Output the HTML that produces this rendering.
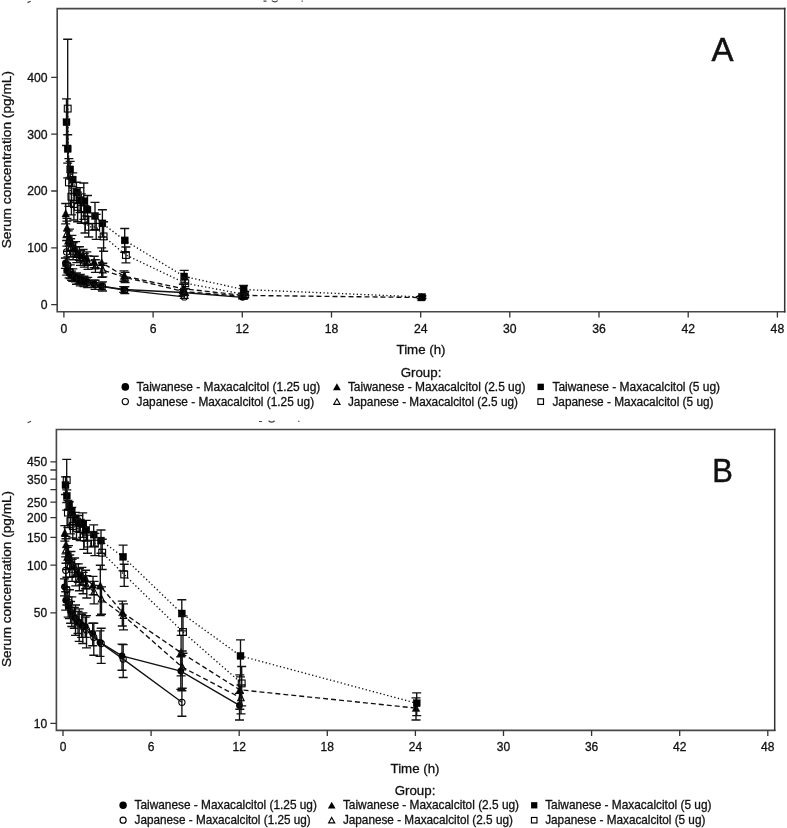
<!DOCTYPE html>
<html lang="en"><head><meta charset="utf-8"><title>Serum concentration-time profiles</title>
<style>html,body{margin:0;padding:0;background:#fff}svg{display:block}</style></head>
<body>
<svg width="787" height="828" viewBox="0 0 787 828" font-family="'Liberation Sans', sans-serif" fill="#111"><style>text{stroke:#111;stroke-width:0.3px}text.big{stroke-width:0.5px}</style>
<rect width="787" height="828" fill="#fff"/>
<path d="M57.2,311.75V8.6H784.7M57.2,311.75H784.7" fill="none" stroke="#484848" stroke-width="1.65" stroke-linecap="square"/><path d="M784.7,8.6V311.75" fill="none" stroke="#333" stroke-width="1.5" stroke-linecap="square"/>
<text x="63.9" y="332.9" font-size="12.2" text-anchor="middle">0</text>
<text x="153.1" y="332.9" font-size="12.2" text-anchor="middle">6</text>
<text x="242.3" y="332.9" font-size="12.2" text-anchor="middle">12</text>
<text x="331.5" y="332.9" font-size="12.2" text-anchor="middle">18</text>
<text x="420.7" y="332.9" font-size="12.2" text-anchor="middle">24</text>
<text x="509.8" y="332.9" font-size="12.2" text-anchor="middle">30</text>
<text x="599.0" y="332.9" font-size="12.2" text-anchor="middle">36</text>
<text x="688.2" y="332.9" font-size="12.2" text-anchor="middle">42</text>
<text x="777.4" y="332.9" font-size="12.2" text-anchor="middle">48</text>
<text x="47.6" y="309.1" font-size="12.2" text-anchor="end">0</text>
<text x="47.6" y="252.3" font-size="12.2" text-anchor="end">100</text>
<text x="47.6" y="195.4" font-size="12.2" text-anchor="end">200</text>
<text x="47.6" y="138.6" font-size="12.2" text-anchor="end">300</text>
<text x="47.6" y="81.7" font-size="12.2" text-anchor="end">400</text>
<path d="M63.9,311.75V317.5M153.1,311.75V317.5M242.3,311.75V317.5M331.5,311.75V317.5M420.7,311.75V317.5M509.8,311.75V317.5M599.0,311.75V317.5M688.2,311.75V317.5M777.4,311.75V317.5M57.2,304.6H51.2M57.2,247.8H51.2M57.2,191.0H51.2M57.2,134.1H51.2M57.2,77.3H51.2" stroke="#333" stroke-width="1.3" fill="none"/>
<text transform="translate(10.9,248.3) rotate(-90)" font-size="13.1" textLength="177.3" lengthAdjust="spacingAndGlyphs">Serum concentration (pg/mL)</text>
<text x="421" y="354" font-size="13.3" text-anchor="middle">Time (h)</text>
<text x="421" y="376.5" font-size="13.3" text-anchor="middle">Group:</text>
<text x="722.5" y="61" font-size="33" text-anchor="middle" class="big">A</text>
<circle cx="125.3" cy="386.90000000000003" r="3.80" fill="#000" stroke="#000" stroke-width="0"/>
<text x="136.6" y="391.0" font-size="12" textLength="183.7" lengthAdjust="spacingAndGlyphs">Taiwanese - Maxacalcitol (1.25 ug)</text>
<circle cx="125.3" cy="401.6" r="3.10" fill="#fff" stroke="#000" stroke-width="1.15"/>
<text x="136.6" y="405.7" font-size="12" textLength="177.5" lengthAdjust="spacingAndGlyphs">Japanese - Maxacalcitol (1.25 ug)</text>
<path d="M336.9,383.30L340.80,390.24H333.00Z" fill="#000" stroke="#000" stroke-width="0"/>
<text x="347.9" y="391.0" font-size="12" textLength="177.5" lengthAdjust="spacingAndGlyphs">Taiwanese - Maxacalcitol (2.5 ug)</text>
<path d="M336.9,398.80L340.00,404.32H333.80Z" fill="#fff" stroke="#000" stroke-width="1.15"/>
<text x="347.9" y="405.7" font-size="12" textLength="170" lengthAdjust="spacingAndGlyphs">Japanese - Maxacalcitol (2.5 ug)</text>
<rect x="537.50" y="383.70" width="6.40" height="6.40" fill="#000" stroke="#000" stroke-width="0"/>
<text x="552.4" y="391.0" font-size="12" textLength="167.7" lengthAdjust="spacingAndGlyphs">Taiwanese - Maxacalcitol (5 ug)</text>
<rect x="537.90" y="398.80" width="5.60" height="5.60" fill="#fff" stroke="#000" stroke-width="1.15"/>
<text x="552.4" y="405.7" font-size="12" textLength="161.1" lengthAdjust="spacingAndGlyphs">Japanese - Maxacalcitol (5 ug)</text>
<path d="M65.4,263.2 L66.7,270.5 L69.1,273.4 L71.6,275.7 L75.3,277.9 L79.1,279.6 L82.8,280.8 L86.5,281.3 L93.9,283.6 L101.4,286.2 L123.7,289.5 L183.1,292.5 L242.6,297.3" fill="none" stroke="#111" stroke-width="1.35"/>
<path d="M65.4,258.0V268.3M60.9,258.0h9M60.9,268.3h9M66.7,266.0V275.1M62.2,266.0h9M62.2,275.1h9M69.1,268.8V277.9M64.6,268.8h9M64.6,277.9h9M71.6,271.1V280.2M67.1,271.1h9M67.1,280.2h9M75.3,274.0V281.9M70.8,274.0h9M70.8,281.9h9M79.1,275.7V283.6M74.6,275.7h9M74.6,283.6h9M82.8,276.8V284.8M78.3,276.8h9M78.3,284.8h9M86.5,277.9V284.8M82.0,277.9h9M82.0,284.8h9M93.9,280.2V287.0M89.4,280.2h9M89.4,287.0h9M101.4,282.8V289.6M96.9,282.8h9M96.9,289.6h9M123.7,286.6V292.3M119.2,286.6h9M119.2,292.3h9M183.1,289.6V295.3M178.6,289.6h9M178.6,295.3h9M242.6,295.8V298.7M238.1,295.8h9M238.1,298.7h9" fill="none" stroke="#111" stroke-width="1.35"/>
<circle cx="65.4" cy="263.2" r="3.4" fill="#000" stroke="#000" stroke-width="0"/>
<circle cx="66.7" cy="270.5" r="3.4" fill="#000" stroke="#000" stroke-width="0"/>
<circle cx="69.1" cy="273.4" r="3.4" fill="#000" stroke="#000" stroke-width="0"/>
<circle cx="71.6" cy="275.7" r="3.4" fill="#000" stroke="#000" stroke-width="0"/>
<circle cx="75.3" cy="277.9" r="3.4" fill="#000" stroke="#000" stroke-width="0"/>
<circle cx="79.1" cy="279.6" r="3.4" fill="#000" stroke="#000" stroke-width="0"/>
<circle cx="82.8" cy="280.8" r="3.4" fill="#000" stroke="#000" stroke-width="0"/>
<circle cx="86.5" cy="281.3" r="3.4" fill="#000" stroke="#000" stroke-width="0"/>
<circle cx="93.9" cy="283.6" r="3.4" fill="#000" stroke="#000" stroke-width="0"/>
<circle cx="101.4" cy="286.2" r="3.4" fill="#000" stroke="#000" stroke-width="0"/>
<circle cx="123.7" cy="289.5" r="3.4" fill="#000" stroke="#000" stroke-width="0"/>
<circle cx="183.1" cy="292.5" r="3.4" fill="#000" stroke="#000" stroke-width="0"/>
<circle cx="242.6" cy="297.3" r="3.4" fill="#000" stroke="#000" stroke-width="0"/>
<path d="M66.6,251.9 L67.9,264.9 L70.3,271.7 L72.8,275.1 L76.5,278.5 L80.3,280.2 L84.0,281.3 L87.7,282.5 L95.1,284.8 L102.5,286.5 L124.8,290.2 L184.3,296.9" fill="none" stroke="#111" stroke-width="1.35"/>
<path d="M66.6,240.5V263.3M62.1,240.5h9M62.1,263.3h9M67.9,256.9V272.8M63.4,256.9h9M63.4,272.8h9M70.3,264.9V278.5M65.8,264.9h9M65.8,278.5h9M72.8,268.8V281.3M68.3,268.8h9M68.3,281.3h9M76.5,272.8V284.2M72.0,272.8h9M72.0,284.2h9M80.3,274.5V285.9M75.8,274.5h9M75.8,285.9h9M84.0,276.2V286.5M79.5,276.2h9M79.5,286.5h9M87.7,277.4V287.6M83.2,277.4h9M83.2,287.6h9M95.1,280.2V289.3M90.6,280.2h9M90.6,289.3h9M102.5,281.9V291.0M98.0,281.9h9M98.0,291.0h9M124.8,286.7V293.6M120.3,286.7h9M120.3,293.6h9M184.3,295.5V298.3M179.8,295.5h9M179.8,298.3h9" fill="none" stroke="#111" stroke-width="1.35"/>
<circle cx="66.6" cy="251.9" r="3.1" fill="none" stroke="#000" stroke-width="1.1"/>
<circle cx="67.9" cy="264.9" r="3.1" fill="none" stroke="#000" stroke-width="1.1"/>
<circle cx="70.3" cy="271.7" r="3.1" fill="none" stroke="#000" stroke-width="1.1"/>
<circle cx="72.8" cy="275.1" r="3.1" fill="none" stroke="#000" stroke-width="1.1"/>
<circle cx="76.5" cy="278.5" r="3.1" fill="none" stroke="#000" stroke-width="1.1"/>
<circle cx="80.3" cy="280.2" r="3.1" fill="none" stroke="#000" stroke-width="1.1"/>
<circle cx="84.0" cy="281.3" r="3.1" fill="none" stroke="#000" stroke-width="1.1"/>
<circle cx="87.7" cy="282.5" r="3.1" fill="none" stroke="#000" stroke-width="1.1"/>
<circle cx="95.1" cy="284.8" r="3.1" fill="none" stroke="#000" stroke-width="1.1"/>
<circle cx="102.5" cy="286.5" r="3.1" fill="none" stroke="#000" stroke-width="1.1"/>
<circle cx="124.8" cy="290.2" r="3.1" fill="none" stroke="#000" stroke-width="1.1"/>
<circle cx="184.3" cy="296.9" r="3.1" fill="none" stroke="#000" stroke-width="1.1"/>
<path d="M65.7,213.7 L67.0,227.9 L69.4,237.6 L71.9,243.3 L75.6,248.9 L79.4,253.5 L83.1,255.8 L86.8,258.0 L94.2,262.0 L101.7,262.6 L124.0,276.1 L183.4,288.7 L242.9,295.4 L421.3,297.5" fill="none" stroke="#111" stroke-width="1.35" stroke-dasharray="5,3"/>
<path d="M65.7,203.5V223.9M61.2,203.5h9M61.2,223.9h9M67.0,218.3V237.6M62.5,218.3h9M62.5,237.6h9M69.4,229.1V246.1M64.9,229.1h9M64.9,246.1h9M71.9,235.3V251.2M67.4,235.3h9M67.4,251.2h9M75.6,241.6V256.3M71.1,241.6h9M71.1,256.3h9M79.4,246.7V260.3M74.9,246.7h9M74.9,260.3h9M83.1,249.5V262.0M78.6,249.5h9M78.6,262.0h9M86.8,251.8V264.3M82.3,251.8h9M82.3,264.3h9M94.2,256.3V267.7M89.7,256.3h9M89.7,267.7h9M101.7,247.8V277.4M97.2,247.8h9M97.2,277.4h9M124.0,270.9V281.2M119.5,270.9h9M119.5,281.2h9M183.4,284.2V293.3M178.9,284.2h9M178.9,293.3h9M242.9,293.1V297.7M238.4,293.1h9M238.4,297.7h9M421.3,296.4V298.7M416.8,296.4h9M416.8,298.7h9" fill="none" stroke="#111" stroke-width="1.35"/>
<path d="M65.7,209.5L69.5,217.1H61.9Z" fill="#000" stroke="#000" stroke-width="0.4"/>
<path d="M67.0,223.7L70.8,231.3H63.2Z" fill="#000" stroke="#000" stroke-width="0.4"/>
<path d="M69.4,233.4L73.2,240.9H65.7Z" fill="#000" stroke="#000" stroke-width="0.4"/>
<path d="M71.9,239.1L75.7,246.6H68.1Z" fill="#000" stroke="#000" stroke-width="0.4"/>
<path d="M75.6,244.7L79.4,252.3H71.9Z" fill="#000" stroke="#000" stroke-width="0.4"/>
<path d="M79.4,249.3L83.1,256.9H75.6Z" fill="#000" stroke="#000" stroke-width="0.4"/>
<path d="M83.1,251.6L86.9,259.1H79.3Z" fill="#000" stroke="#000" stroke-width="0.4"/>
<path d="M86.8,253.8L90.6,261.4H83.0Z" fill="#000" stroke="#000" stroke-width="0.4"/>
<path d="M94.2,257.8L98.0,265.4H90.4Z" fill="#000" stroke="#000" stroke-width="0.4"/>
<path d="M101.7,258.4L105.4,265.9H97.9Z" fill="#000" stroke="#000" stroke-width="0.4"/>
<path d="M124.0,271.9L127.7,279.4H120.2Z" fill="#000" stroke="#000" stroke-width="0.4"/>
<path d="M183.4,284.5L187.2,292.1H179.6Z" fill="#000" stroke="#000" stroke-width="0.4"/>
<path d="M242.9,291.2L246.7,298.7H239.1Z" fill="#000" stroke="#000" stroke-width="0.4"/>
<path d="M421.3,293.3L425.0,300.9H417.5Z" fill="#000" stroke="#000" stroke-width="0.4"/>
<path d="M66.9,233.6 L68.2,241.0 L70.6,247.8 L73.1,251.2 L76.8,254.6 L80.5,258.0 L84.3,260.3 L88.0,262.6 L95.4,266.0 L102.8,270.0 L125.1,277.4 L184.6,291.7 L244.1,296.4" fill="none" stroke="#111" stroke-width="1.35" stroke-dasharray="5,3"/>
<path d="M66.9,221.1V246.1M62.4,221.1h9M62.4,246.1h9M68.2,230.8V251.2M63.7,230.8h9M63.7,251.2h9M70.6,238.7V256.9M66.1,238.7h9M66.1,256.9h9M73.1,242.7V259.7M68.6,242.7h9M68.6,259.7h9M76.8,246.7V262.6M72.3,246.7h9M72.3,262.6h9M80.5,250.7V265.4M76.0,250.7h9M76.0,265.4h9M84.3,253.5V267.1M79.8,253.5h9M79.8,267.1h9M88.0,255.8V269.4M83.5,255.8h9M83.5,269.4h9M95.4,259.7V272.3M90.9,259.7h9M90.9,272.3h9M102.8,263.2V276.8M98.3,263.2h9M98.3,276.8h9M125.1,272.3V282.5M120.6,272.3h9M120.6,282.5h9M184.6,288.3V295.2M180.1,288.3h9M180.1,295.2h9M244.1,294.7V298.1M239.6,294.7h9M239.6,298.1h9" fill="none" stroke="#111" stroke-width="1.35"/>
<path d="M66.9,230.0L70.2,236.5H63.7Z" fill="none" stroke="#000" stroke-width="1.1"/>
<path d="M68.2,237.4L71.4,243.9H64.9Z" fill="none" stroke="#000" stroke-width="1.1"/>
<path d="M70.6,244.2L73.9,250.7H67.4Z" fill="none" stroke="#000" stroke-width="1.1"/>
<path d="M73.1,247.6L76.4,254.1H69.9Z" fill="none" stroke="#000" stroke-width="1.1"/>
<path d="M76.8,251.0L80.1,257.5H73.6Z" fill="none" stroke="#000" stroke-width="1.1"/>
<path d="M80.5,254.4L83.8,260.9H77.3Z" fill="none" stroke="#000" stroke-width="1.1"/>
<path d="M84.3,256.7L87.5,263.2H81.0Z" fill="none" stroke="#000" stroke-width="1.1"/>
<path d="M88.0,259.0L91.2,265.5H84.7Z" fill="none" stroke="#000" stroke-width="1.1"/>
<path d="M95.4,262.4L98.7,268.9H92.2Z" fill="none" stroke="#000" stroke-width="1.1"/>
<path d="M102.8,266.4L106.1,272.9H99.6Z" fill="none" stroke="#000" stroke-width="1.1"/>
<path d="M125.1,273.8L128.4,280.2H121.9Z" fill="none" stroke="#000" stroke-width="1.1"/>
<path d="M184.6,288.1L187.8,294.6H181.4Z" fill="none" stroke="#000" stroke-width="1.1"/>
<path d="M244.1,292.8L247.3,299.3H240.8Z" fill="none" stroke="#000" stroke-width="1.1"/>
<path d="M66.5,122.2 L67.7,148.9 L70.2,169.4 L72.7,179.6 L76.4,192.4 L80.1,200.1 L83.8,201.2 L87.5,209.7 L95.0,216.0 L102.4,223.4 L124.7,240.4 L184.2,276.5 L243.6,289.5 L422.0,297.0" fill="none" stroke="#111" stroke-width="1.35" stroke-dasharray="1.3,2.4"/>
<path d="M66.5,98.9V145.5M62.0,98.9h9M62.0,145.5h9M67.7,134.7V163.1M63.2,134.7h9M63.2,163.1h9M70.2,161.4V177.3M65.7,161.4h9M65.7,177.3h9M72.7,172.8V186.4M68.2,172.8h9M68.2,186.4h9M76.4,182.2V202.6M71.9,182.2h9M71.9,202.6h9M80.1,187.6V212.6M75.6,187.6h9M75.6,212.6h9M83.8,183.0V219.4M79.3,183.0h9M79.3,219.4h9M87.5,195.5V223.9M83.0,195.5h9M83.0,223.9h9M95.0,202.3V229.6M90.5,202.3h9M90.5,229.6h9M102.4,209.7V237.0M97.9,209.7h9M97.9,237.0h9M124.7,228.5V252.4M120.2,228.5h9M120.2,252.4h9M184.2,270.3V282.8M179.7,270.3h9M179.7,282.8h9M243.6,285.5V293.5M239.1,285.5h9M239.1,293.5h9M422.0,295.8V298.3M417.5,295.8h9M417.5,298.3h9" fill="none" stroke="#111" stroke-width="1.35"/>
<rect x="63.0" y="118.7" width="7.0" height="7.0" fill="#000" stroke="#000" stroke-width="0.4"/>
<rect x="64.2" y="145.4" width="7.0" height="7.0" fill="#000" stroke="#000" stroke-width="0.4"/>
<rect x="66.7" y="165.9" width="7.0" height="7.0" fill="#000" stroke="#000" stroke-width="0.4"/>
<rect x="69.2" y="176.1" width="7.0" height="7.0" fill="#000" stroke="#000" stroke-width="0.4"/>
<rect x="72.9" y="188.9" width="7.0" height="7.0" fill="#000" stroke="#000" stroke-width="0.4"/>
<rect x="76.6" y="196.6" width="7.0" height="7.0" fill="#000" stroke="#000" stroke-width="0.4"/>
<rect x="80.3" y="197.7" width="7.0" height="7.0" fill="#000" stroke="#000" stroke-width="0.4"/>
<rect x="84.0" y="206.2" width="7.0" height="7.0" fill="#000" stroke="#000" stroke-width="0.4"/>
<rect x="91.5" y="212.5" width="7.0" height="7.0" fill="#000" stroke="#000" stroke-width="0.4"/>
<rect x="98.9" y="219.9" width="7.0" height="7.0" fill="#000" stroke="#000" stroke-width="0.4"/>
<rect x="121.2" y="236.9" width="7.0" height="7.0" fill="#000" stroke="#000" stroke-width="0.4"/>
<rect x="180.7" y="273.0" width="7.0" height="7.0" fill="#000" stroke="#000" stroke-width="0.4"/>
<rect x="240.1" y="286.0" width="7.0" height="7.0" fill="#000" stroke="#000" stroke-width="0.4"/>
<rect x="418.5" y="293.5" width="7.0" height="7.0" fill="#000" stroke="#000" stroke-width="0.4"/>
<path d="M67.7,108.6 L68.9,182.4 L71.4,196.7 L73.9,204.0 L77.6,206.9 L81.3,208.6 L85.0,219.4 L88.7,226.8 L96.2,226.8 L103.6,236.4 L125.9,255.0 L185.3,283.2 L244.8,294.5" fill="none" stroke="#111" stroke-width="1.35" stroke-dasharray="1.3,2.4"/>
<path d="M67.7,39.2V177.9M63.2,39.2h9M63.2,177.9h9M68.9,158.6V206.3M64.4,158.6h9M64.4,206.3h9M71.4,178.5V214.8M66.9,178.5h9M66.9,214.8h9M73.9,188.1V220.0M69.4,188.1h9M69.4,220.0h9M77.6,192.1V221.7M73.1,192.1h9M73.1,221.7h9M81.3,193.8V223.4M76.8,193.8h9M76.8,223.4h9M85.0,205.7V233.0M80.5,205.7h9M80.5,233.0h9M88.7,216.5V237.0M84.2,216.5h9M84.2,237.0h9M96.2,214.3V239.3M91.7,214.3h9M91.7,239.3h9M103.6,221.7V251.2M99.1,221.7h9M99.1,251.2h9M125.9,247.0V262.9M121.4,247.0h9M121.4,262.9h9M185.3,277.5V288.8M180.8,277.5h9M180.8,288.8h9M244.8,291.6V297.3M240.3,291.6h9M240.3,297.3h9" fill="none" stroke="#111" stroke-width="1.35"/>
<rect x="64.3" y="105.2" width="6.8" height="6.8" fill="none" stroke="#000" stroke-width="1.1"/>
<rect x="65.5" y="179.0" width="6.8" height="6.8" fill="none" stroke="#000" stroke-width="1.1"/>
<rect x="68.0" y="193.3" width="6.8" height="6.8" fill="none" stroke="#000" stroke-width="1.1"/>
<rect x="70.5" y="200.6" width="6.8" height="6.8" fill="none" stroke="#000" stroke-width="1.1"/>
<rect x="74.2" y="203.5" width="6.8" height="6.8" fill="none" stroke="#000" stroke-width="1.1"/>
<rect x="77.9" y="205.2" width="6.8" height="6.8" fill="none" stroke="#000" stroke-width="1.1"/>
<rect x="81.6" y="216.0" width="6.8" height="6.8" fill="none" stroke="#000" stroke-width="1.1"/>
<rect x="85.3" y="223.4" width="6.8" height="6.8" fill="none" stroke="#000" stroke-width="1.1"/>
<rect x="92.8" y="223.4" width="6.8" height="6.8" fill="none" stroke="#000" stroke-width="1.1"/>
<rect x="100.2" y="233.0" width="6.8" height="6.8" fill="none" stroke="#000" stroke-width="1.1"/>
<rect x="122.5" y="251.6" width="6.8" height="6.8" fill="none" stroke="#000" stroke-width="1.1"/>
<rect x="181.9" y="279.8" width="6.8" height="6.8" fill="none" stroke="#000" stroke-width="1.1"/>
<rect x="241.4" y="291.1" width="6.8" height="6.8" fill="none" stroke="#000" stroke-width="1.1"/>
<path d="M27.5,2.6l3.2,-1.4M263.5,1.2h3M271.8,0.6q3,2.6 6,0M301.6,1.1h1.2" stroke="#444" stroke-width="1.2" fill="none"/>
<path d="M27.6,422.8l3.4,-1.6M259,421.5h3M268.6,420.8q3,2.8 6,0M298.2,421.4h1.2" stroke="#444" stroke-width="1.2" fill="none"/>
<path d="M56.4,730.3V429.5H774.7M56.4,730.3H774.7" fill="none" stroke="#484848" stroke-width="1.65" stroke-linecap="square"/><path d="M774.7,429.5V730.3" fill="none" stroke="#333" stroke-width="1.5" stroke-linecap="square"/>
<text x="63.0" y="751.3" font-size="12" text-anchor="middle">0</text>
<text x="151.1" y="751.3" font-size="12" text-anchor="middle">6</text>
<text x="239.2" y="751.3" font-size="12" text-anchor="middle">12</text>
<text x="327.3" y="751.3" font-size="12" text-anchor="middle">18</text>
<text x="415.4" y="751.3" font-size="12" text-anchor="middle">24</text>
<text x="503.5" y="751.3" font-size="12" text-anchor="middle">30</text>
<text x="591.6" y="751.3" font-size="12" text-anchor="middle">36</text>
<text x="679.7" y="751.3" font-size="12" text-anchor="middle">42</text>
<text x="767.8" y="751.3" font-size="12" text-anchor="middle">48</text>
<text x="47.1" y="727.8" font-size="12" text-anchor="end">10</text>
<text x="47.1" y="617.2" font-size="12" text-anchor="end">50</text>
<text x="47.1" y="569.6" font-size="12" text-anchor="end">100</text>
<text x="47.1" y="541.7" font-size="12" text-anchor="end">150</text>
<text x="47.1" y="521.9" font-size="12" text-anchor="end">200</text>
<text x="47.1" y="506.6" font-size="12" text-anchor="end">250</text>
<text x="47.1" y="483.5" font-size="12" text-anchor="end">350</text>
<text x="47.1" y="466.2" font-size="12" text-anchor="end">450</text>
<path d="M63.0,730.3V735.9M151.1,730.3V735.9M239.2,730.3V735.9M327.3,730.3V735.9M415.4,730.3V735.9M503.5,730.3V735.9M591.6,730.3V735.9M679.7,730.3V735.9M767.8,730.3V735.9M56.4,723.4H50.4M56.4,612.8H50.4M56.4,565.2H50.4M56.4,537.3H50.4M56.4,517.6H50.4M56.4,502.2H50.4M56.4,489.7H50.4M56.4,479.1H50.4M56.4,470.0H50.4M56.4,461.9H50.4" stroke="#333" stroke-width="1.3" fill="none"/>
<text transform="translate(10.9,667.1) rotate(-90)" font-size="13.1" textLength="176.2" lengthAdjust="spacingAndGlyphs">Serum concentration (pg/mL)</text>
<text x="415" y="773.2" font-size="13.3" text-anchor="middle">Time (h)</text>
<text x="415" y="794.5" font-size="13.3" text-anchor="middle">Group:</text>
<text x="722.5" y="482" font-size="34" textLength="20.6" lengthAdjust="spacingAndGlyphs" text-anchor="middle" class="big">B</text>
<circle cx="123.1" cy="805.3" r="3.72" fill="#000" stroke="#000" stroke-width="0"/>
<text x="134.6" y="809.4" font-size="11.9" textLength="182.3" lengthAdjust="spacingAndGlyphs">Taiwanese - Maxacalcitol (1.25 ug)</text>
<circle cx="123.1" cy="820.1999999999999" r="3.04" fill="#fff" stroke="#000" stroke-width="1.15"/>
<text x="134.6" y="824.3" font-size="11.9" textLength="176.1" lengthAdjust="spacingAndGlyphs">Japanese - Maxacalcitol (1.25 ug)</text>
<path d="M331.7,801.78L335.52,808.58H327.88Z" fill="#000" stroke="#000" stroke-width="0"/>
<text x="342.9" y="809.4" font-size="11.9" textLength="176.2" lengthAdjust="spacingAndGlyphs">Taiwanese - Maxacalcitol (2.5 ug)</text>
<path d="M331.7,817.46L334.74,822.87H328.66Z" fill="#fff" stroke="#000" stroke-width="1.15"/>
<text x="342.9" y="824.3" font-size="11.9" textLength="170" lengthAdjust="spacingAndGlyphs">Japanese - Maxacalcitol (2.5 ug)</text>
<rect x="531.06" y="802.16" width="6.27" height="6.27" fill="#000" stroke="#000" stroke-width="0"/>
<text x="545.2" y="809.4" font-size="11.9" textLength="166.3" lengthAdjust="spacingAndGlyphs">Taiwanese - Maxacalcitol (5 ug)</text>
<rect x="531.46" y="817.46" width="5.49" height="5.49" fill="#fff" stroke="#000" stroke-width="1.15"/>
<text x="545.2" y="824.3" font-size="11.9" textLength="160.2" lengthAdjust="spacingAndGlyphs">Japanese - Maxacalcitol (5 ug)</text>
<path d="M64.5,586.8 L65.7,600.3 L68.2,606.3 L70.6,611.5 L74.3,617.1 L78.0,621.6 L81.6,624.8 L85.3,626.5 L92.7,633.5 L100.0,642.4 L122.0,655.9 L180.8,671.1 L239.5,705.4" fill="none" stroke="#111" stroke-width="1.35"/>
<path d="M64.5,578.8V595.9M60.0,578.8h9M60.0,595.9h9M65.7,591.7V610.1M61.2,591.7h9M61.2,610.1h9M68.2,596.9V617.1M63.7,596.9h9M63.7,617.1h9M70.6,601.5V623.2M66.1,601.5h9M66.1,623.2h9M74.3,607.5V628.2M69.8,607.5h9M69.8,628.2h9M78.0,611.5V633.5M73.5,611.5h9M73.5,633.5h9M81.6,614.2V637.3M77.1,614.2h9M77.1,637.3h9M85.3,617.1V637.3M80.8,617.1h9M80.8,637.3h9M92.7,623.2V645.7M88.2,623.2h9M88.2,645.7h9M100.0,630.8V656.4M95.5,630.8h9M95.5,656.4h9M122.0,644.1V670.2M117.5,644.1h9M117.5,670.2h9M180.8,656.7V689.4M176.3,656.7h9M176.3,689.4h9M239.5,693.3V720.0M235.0,693.3h9M235.0,720.0h9" fill="none" stroke="#111" stroke-width="1.35"/>
<circle cx="64.5" cy="586.8" r="3.4" fill="#000" stroke="#000" stroke-width="0"/>
<circle cx="65.7" cy="600.3" r="3.4" fill="#000" stroke="#000" stroke-width="0"/>
<circle cx="68.2" cy="606.3" r="3.4" fill="#000" stroke="#000" stroke-width="0"/>
<circle cx="70.6" cy="611.5" r="3.4" fill="#000" stroke="#000" stroke-width="0"/>
<circle cx="74.3" cy="617.1" r="3.4" fill="#000" stroke="#000" stroke-width="0"/>
<circle cx="78.0" cy="621.6" r="3.4" fill="#000" stroke="#000" stroke-width="0"/>
<circle cx="81.6" cy="624.8" r="3.4" fill="#000" stroke="#000" stroke-width="0"/>
<circle cx="85.3" cy="626.5" r="3.4" fill="#000" stroke="#000" stroke-width="0"/>
<circle cx="92.7" cy="633.5" r="3.4" fill="#000" stroke="#000" stroke-width="0"/>
<circle cx="100.0" cy="642.4" r="3.4" fill="#000" stroke="#000" stroke-width="0"/>
<circle cx="122.0" cy="655.9" r="3.4" fill="#000" stroke="#000" stroke-width="0"/>
<circle cx="180.8" cy="671.1" r="3.4" fill="#000" stroke="#000" stroke-width="0"/>
<circle cx="239.5" cy="705.4" r="3.4" fill="#000" stroke="#000" stroke-width="0"/>
<path d="M65.7,570.3 L66.9,589.7 L69.4,602.6 L71.8,610.1 L75.5,618.6 L79.2,623.2 L82.8,626.5 L86.5,629.9 L93.8,637.3 L101.2,643.5 L123.2,659.1 L181.9,702.3" fill="none" stroke="#111" stroke-width="1.35"/>
<path d="M65.7,556.9V587.0M61.2,556.9h9M61.2,587.0h9M66.9,577.2V605.0M62.4,577.2h9M62.4,605.0h9M69.4,589.7V618.6M64.9,589.7h9M64.9,618.6h9M71.8,596.9V626.5M67.3,596.9h9M67.3,626.5h9M75.5,605.0V635.4M71.0,605.0h9M71.0,635.4h9M79.2,608.8V641.4M74.7,608.8h9M74.7,641.4h9M82.8,612.8V643.5M78.3,612.8h9M78.3,643.5h9M86.5,615.6V647.9M82.0,615.6h9M82.0,647.9h9M93.8,623.2V655.2M89.3,623.2h9M89.3,655.2h9M101.2,628.2V663.3M96.7,628.2h9M96.7,663.3h9M123.2,644.6V677.5M118.7,644.6h9M118.7,677.5h9M181.9,690.7V716.2M177.4,690.7h9M177.4,716.2h9" fill="none" stroke="#111" stroke-width="1.35"/>
<circle cx="65.7" cy="570.3" r="3.1" fill="none" stroke="#000" stroke-width="1.1"/>
<circle cx="66.9" cy="589.7" r="3.1" fill="none" stroke="#000" stroke-width="1.1"/>
<circle cx="69.4" cy="602.6" r="3.1" fill="none" stroke="#000" stroke-width="1.1"/>
<circle cx="71.8" cy="610.1" r="3.1" fill="none" stroke="#000" stroke-width="1.1"/>
<circle cx="75.5" cy="618.6" r="3.1" fill="none" stroke="#000" stroke-width="1.1"/>
<circle cx="79.2" cy="623.2" r="3.1" fill="none" stroke="#000" stroke-width="1.1"/>
<circle cx="82.8" cy="626.5" r="3.1" fill="none" stroke="#000" stroke-width="1.1"/>
<circle cx="86.5" cy="629.9" r="3.1" fill="none" stroke="#000" stroke-width="1.1"/>
<circle cx="93.8" cy="637.3" r="3.1" fill="none" stroke="#000" stroke-width="1.1"/>
<circle cx="101.2" cy="643.5" r="3.1" fill="none" stroke="#000" stroke-width="1.1"/>
<circle cx="123.2" cy="659.1" r="3.1" fill="none" stroke="#000" stroke-width="1.1"/>
<circle cx="181.9" cy="702.3" r="3.1" fill="none" stroke="#000" stroke-width="1.1"/>
<path d="M64.8,532.9 L66.0,544.6 L68.5,553.8 L70.9,559.9 L74.6,566.6 L78.3,572.4 L81.9,575.6 L85.6,578.8 L93.0,585.0 L100.3,585.9 L122.3,612.4 L181.1,652.7 L239.8,689.8 L416.0,708.1" fill="none" stroke="#111" stroke-width="1.35" stroke-dasharray="5,3"/>
<path d="M64.8,525.6V541.1M60.3,525.6h9M60.3,541.1h9M66.0,536.4V553.8M61.5,536.4h9M61.5,553.8h9M68.5,545.6V563.2M64.0,545.6h9M64.0,563.2h9M70.9,551.5V569.5M66.4,551.5h9M66.4,569.5h9M74.6,558.0V576.4M70.1,558.0h9M70.1,576.4h9M78.3,563.8V582.3M73.8,563.8h9M73.8,582.3h9M81.9,567.3V585.0M77.4,567.3h9M77.4,585.0h9M85.6,570.2V588.7M81.1,570.2h9M81.1,588.7h9M93.0,576.4V594.8M88.5,576.4h9M88.5,594.8h9M100.3,565.2V615.6M95.8,565.2h9M95.8,615.6h9M122.3,601.1V626.0M117.8,601.1h9M117.8,626.0h9M181.1,635.4V675.8M176.6,635.4h9M176.6,675.8h9M239.8,674.8V709.2M235.3,674.8h9M235.3,709.2h9M416.0,697.9V720.0M411.5,697.9h9M411.5,720.0h9" fill="none" stroke="#111" stroke-width="1.35"/>
<path d="M64.8,528.7L68.6,536.3H61.0Z" fill="#000" stroke="#000" stroke-width="0.4"/>
<path d="M66.0,540.4L69.8,547.9H62.3Z" fill="#000" stroke="#000" stroke-width="0.4"/>
<path d="M68.5,549.6L72.3,557.2H64.7Z" fill="#000" stroke="#000" stroke-width="0.4"/>
<path d="M70.9,555.7L74.7,563.3H67.1Z" fill="#000" stroke="#000" stroke-width="0.4"/>
<path d="M74.6,562.4L78.4,569.9H70.8Z" fill="#000" stroke="#000" stroke-width="0.4"/>
<path d="M78.3,568.2L82.1,575.8H74.5Z" fill="#000" stroke="#000" stroke-width="0.4"/>
<path d="M81.9,571.4L85.7,578.9H78.2Z" fill="#000" stroke="#000" stroke-width="0.4"/>
<path d="M85.6,574.6L89.4,582.2H81.8Z" fill="#000" stroke="#000" stroke-width="0.4"/>
<path d="M93.0,580.8L96.7,588.3H89.2Z" fill="#000" stroke="#000" stroke-width="0.4"/>
<path d="M100.3,581.7L104.1,589.2H96.5Z" fill="#000" stroke="#000" stroke-width="0.4"/>
<path d="M122.3,608.2L126.1,615.8H118.5Z" fill="#000" stroke="#000" stroke-width="0.4"/>
<path d="M181.1,648.5L184.8,656.0H177.3Z" fill="#000" stroke="#000" stroke-width="0.4"/>
<path d="M239.8,685.6L243.6,693.2H236.0Z" fill="#000" stroke="#000" stroke-width="0.4"/>
<path d="M416.0,703.9L419.8,711.4H412.2Z" fill="#000" stroke="#000" stroke-width="0.4"/>
<path d="M66.0,549.9 L67.2,557.4 L69.7,565.2 L72.1,569.5 L75.8,574.0 L79.4,578.8 L83.1,582.3 L86.8,585.9 L94.1,591.7 L101.5,599.2 L123.5,615.6 L182.2,667.1 L241.0,697.9" fill="none" stroke="#111" stroke-width="1.35" stroke-dasharray="5,3"/>
<path d="M66.0,538.7V563.2M61.5,538.7h9M61.5,563.2h9M67.2,547.2V569.5M62.7,547.2h9M62.7,569.5h9M69.7,555.0V577.2M65.2,555.0h9M65.2,577.2h9M72.1,559.3V581.4M67.6,559.3h9M67.6,581.4h9M75.8,563.8V585.9M71.3,563.8h9M71.3,585.9h9M79.4,568.7V590.7M74.9,568.7h9M74.9,590.7h9M83.1,572.4V593.7M78.6,572.4h9M78.6,593.7h9M86.8,575.6V598.0M82.3,575.6h9M82.3,598.0h9M94.1,581.4V603.8M89.6,581.4h9M89.6,603.8h9M101.5,586.8V614.2M97.0,586.8h9M97.0,614.2h9M123.5,603.8V629.9M119.0,603.8h9M119.0,629.9h9M182.2,651.0V688.2M177.7,651.0h9M177.7,688.2h9M241.0,685.0V713.8M236.5,685.0h9M236.5,713.8h9" fill="none" stroke="#111" stroke-width="1.35"/>
<path d="M66.0,546.3L69.2,552.7H62.7Z" fill="none" stroke="#000" stroke-width="1.1"/>
<path d="M67.2,553.8L70.5,560.3H64.0Z" fill="none" stroke="#000" stroke-width="1.1"/>
<path d="M69.7,561.6L72.9,568.1H66.4Z" fill="none" stroke="#000" stroke-width="1.1"/>
<path d="M72.1,565.9L75.3,572.3H68.9Z" fill="none" stroke="#000" stroke-width="1.1"/>
<path d="M75.8,570.4L79.0,576.9H72.5Z" fill="none" stroke="#000" stroke-width="1.1"/>
<path d="M79.4,575.2L82.7,581.7H76.2Z" fill="none" stroke="#000" stroke-width="1.1"/>
<path d="M83.1,578.7L86.4,585.2H79.9Z" fill="none" stroke="#000" stroke-width="1.1"/>
<path d="M86.8,582.3L90.0,588.8H83.5Z" fill="none" stroke="#000" stroke-width="1.1"/>
<path d="M94.1,588.1L97.4,594.6H90.9Z" fill="none" stroke="#000" stroke-width="1.1"/>
<path d="M101.5,595.6L104.7,602.0H98.2Z" fill="none" stroke="#000" stroke-width="1.1"/>
<path d="M123.5,612.0L126.7,618.5H120.3Z" fill="none" stroke="#000" stroke-width="1.1"/>
<path d="M182.2,663.5L185.5,670.0H179.0Z" fill="none" stroke="#000" stroke-width="1.1"/>
<path d="M241.0,694.3L244.2,700.8H237.7Z" fill="none" stroke="#000" stroke-width="1.1"/>
<path d="M65.5,485.1 L66.8,495.9 L69.2,505.6 L71.7,511.0 L75.3,518.4 L79.0,523.3 L82.7,524.1 L86.3,530.0 L93.7,534.6 L101.0,540.6 L123.1,556.8 L181.8,613.5 L240.5,655.9 L416.7,703.3" fill="none" stroke="#111" stroke-width="1.35" stroke-dasharray="1.3,2.4"/>
<path d="M65.5,476.8V494.5M61.0,476.8h9M61.0,494.5h9M66.8,489.9V502.5M62.3,489.9h9M62.3,502.5h9M69.2,501.7V509.8M64.7,501.7h9M64.7,509.8h9M71.7,507.4V514.9M67.2,507.4h9M67.2,514.9h9M75.3,512.4V525.0M70.8,512.4h9M70.8,525.0h9M79.0,515.5V532.1M74.5,515.5h9M74.5,532.1h9M82.7,512.9V537.3M78.2,512.9h9M78.2,537.3h9M86.3,520.4V541.1M81.8,520.4h9M81.8,541.1h9M93.7,524.8V546.1M89.2,524.8h9M89.2,546.1h9M101.0,530.0V553.2M96.5,530.0h9M96.5,553.2h9M123.1,545.1V570.9M118.6,545.1h9M118.6,570.9h9M181.8,599.7V630.8M177.3,599.7h9M177.3,630.8h9M240.5,639.9V676.8M236.0,639.9h9M236.0,676.8h9M416.7,692.8V715.6M412.2,692.8h9M412.2,715.6h9" fill="none" stroke="#111" stroke-width="1.35"/>
<rect x="62.0" y="481.6" width="7.0" height="7.0" fill="#000" stroke="#000" stroke-width="0.4"/>
<rect x="63.3" y="492.4" width="7.0" height="7.0" fill="#000" stroke="#000" stroke-width="0.4"/>
<rect x="65.7" y="502.1" width="7.0" height="7.0" fill="#000" stroke="#000" stroke-width="0.4"/>
<rect x="68.2" y="507.5" width="7.0" height="7.0" fill="#000" stroke="#000" stroke-width="0.4"/>
<rect x="71.8" y="514.9" width="7.0" height="7.0" fill="#000" stroke="#000" stroke-width="0.4"/>
<rect x="75.5" y="519.8" width="7.0" height="7.0" fill="#000" stroke="#000" stroke-width="0.4"/>
<rect x="79.2" y="520.6" width="7.0" height="7.0" fill="#000" stroke="#000" stroke-width="0.4"/>
<rect x="82.8" y="526.5" width="7.0" height="7.0" fill="#000" stroke="#000" stroke-width="0.4"/>
<rect x="90.2" y="531.1" width="7.0" height="7.0" fill="#000" stroke="#000" stroke-width="0.4"/>
<rect x="97.5" y="537.1" width="7.0" height="7.0" fill="#000" stroke="#000" stroke-width="0.4"/>
<rect x="119.6" y="553.3" width="7.0" height="7.0" fill="#000" stroke="#000" stroke-width="0.4"/>
<rect x="178.3" y="610.0" width="7.0" height="7.0" fill="#000" stroke="#000" stroke-width="0.4"/>
<rect x="237.0" y="652.4" width="7.0" height="7.0" fill="#000" stroke="#000" stroke-width="0.4"/>
<rect x="413.2" y="699.8" width="7.0" height="7.0" fill="#000" stroke="#000" stroke-width="0.4"/>
<path d="M66.7,480.1 L67.9,512.6 L70.4,521.1 L72.8,526.0 L76.5,527.9 L80.2,529.1 L83.8,537.3 L87.5,543.6 L94.9,543.6 L102.2,552.7 L124.2,574.5 L183.0,632.0 L241.7,683.4" fill="none" stroke="#111" stroke-width="1.35" stroke-dasharray="1.3,2.4"/>
<path d="M66.7,459.3V510.1M62.2,459.3h9M62.2,510.1h9M67.9,500.3V527.5M63.4,500.3h9M63.4,527.5h9M70.4,510.4V533.8M65.9,510.4h9M65.9,533.8h9M72.8,515.9V537.8M68.3,515.9h9M68.3,537.8h9M76.5,518.3V539.2M72.0,518.3h9M72.0,539.2h9M80.2,519.3V540.6M75.7,519.3h9M75.7,540.6h9M83.8,527.1V549.3M79.3,527.1h9M79.3,549.3h9M87.5,535.1V553.2M83.0,535.1h9M83.0,553.2h9M94.9,533.3V555.6M90.4,533.3h9M90.4,555.6h9M102.2,539.2V569.5M97.7,539.2h9M97.7,569.5h9M124.2,564.2V586.4M119.7,564.2h9M119.7,586.4h9M183.0,615.9V653.2M178.5,615.9h9M178.5,653.2h9M241.7,666.5V705.9M237.2,666.5h9M237.2,705.9h9" fill="none" stroke="#111" stroke-width="1.35"/>
<rect x="63.3" y="476.7" width="6.8" height="6.8" fill="none" stroke="#000" stroke-width="1.1"/>
<rect x="64.5" y="509.2" width="6.8" height="6.8" fill="none" stroke="#000" stroke-width="1.1"/>
<rect x="67.0" y="517.7" width="6.8" height="6.8" fill="none" stroke="#000" stroke-width="1.1"/>
<rect x="69.4" y="522.6" width="6.8" height="6.8" fill="none" stroke="#000" stroke-width="1.1"/>
<rect x="73.1" y="524.5" width="6.8" height="6.8" fill="none" stroke="#000" stroke-width="1.1"/>
<rect x="76.8" y="525.7" width="6.8" height="6.8" fill="none" stroke="#000" stroke-width="1.1"/>
<rect x="80.4" y="533.9" width="6.8" height="6.8" fill="none" stroke="#000" stroke-width="1.1"/>
<rect x="84.1" y="540.2" width="6.8" height="6.8" fill="none" stroke="#000" stroke-width="1.1"/>
<rect x="91.5" y="540.2" width="6.8" height="6.8" fill="none" stroke="#000" stroke-width="1.1"/>
<rect x="98.8" y="549.3" width="6.8" height="6.8" fill="none" stroke="#000" stroke-width="1.1"/>
<rect x="120.8" y="571.1" width="6.8" height="6.8" fill="none" stroke="#000" stroke-width="1.1"/>
<rect x="179.6" y="628.6" width="6.8" height="6.8" fill="none" stroke="#000" stroke-width="1.1"/>
<rect x="238.3" y="680.0" width="6.8" height="6.8" fill="none" stroke="#000" stroke-width="1.1"/>
</svg>
</body></html>
